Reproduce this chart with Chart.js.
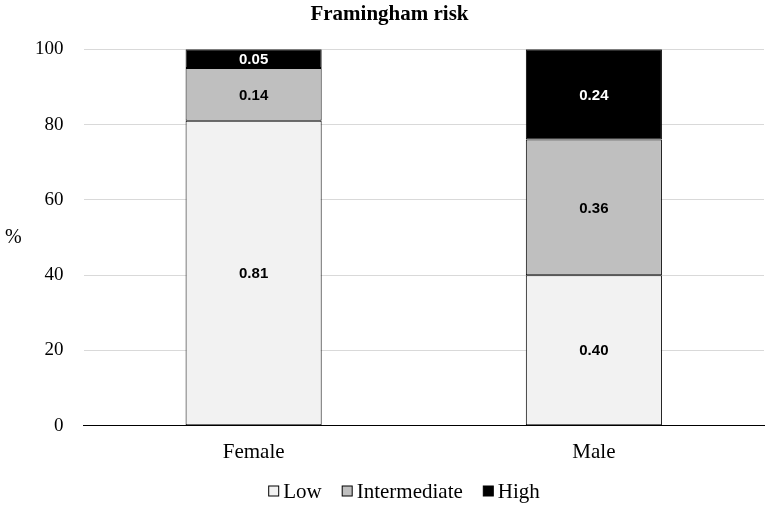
<!DOCTYPE html>
<html>
<head>
<meta charset="utf-8">
<script src="https://cdn.jsdelivr.net/npm/chart.js@4.4.0/dist/chart.umd.min.js"></script>
<style>
html,body{margin:0;padding:0;background:#fff;}
#wrap{width:770px;height:505px;position:relative;}
</style>
</head>
<body>
<div id="wrap"><canvas id="c" width="770" height="505"></canvas></div>
<script>
const categories = ["Female", "Male"];
const lowValues = [81, 40];
const intermediateValues = [14, 36];
const highValues = [5, 24];
const yTicks = [0, 20, 40, 60, 80, 100];

const serif = "'Liberation Serif', 'Times New Roman', serif";
const sans = "'Liberation Sans', Arial, sans-serif";

const labelPlugin = {
  id: 'barLabels',
  afterDatasetsDraw(chart) {
    const ctx = chart.ctx;
    ctx.save();
    ctx.font = "bold 15px " + sans;
    ctx.textAlign = 'center';
    ctx.textBaseline = 'middle';
    chart.data.datasets.forEach((ds, di) => {
      const meta = chart.getDatasetMeta(di);
      meta.data.forEach((bar, i) => {
        const v = ds.data[i];
        const yMid = (bar.y + bar.base) / 2;
        ctx.fillStyle = ds.labelColor;
        ctx.fillText((v / 100).toFixed(2), bar.x, yMid + 1);
      });
    });
    // y axis title "%"
    ctx.font = "20px " + serif;
    ctx.fillStyle = '#000';
    ctx.textAlign = 'left';
    const ya = chart.scales.y;
    ctx.fillText('%', 5, (ya.top + ya.bottom) / 2);

    // custom legend
    ctx.font = "21px " + serif;
    const box = 11, gapText = 4, gapItem = 20;
    const items = chart.data.datasets.map(ds => ({ ds, w: ctx.measureText(ds.label).width }));
    let total = 0;
    items.forEach((it, k) => { total += box + gapText + it.w + (k < items.length - 1 ? gapItem : 0); });
    let x = chart.width / 2 + 19 - total / 2;
    const yc = 491;
    items.forEach(it => {
      ctx.fillStyle = it.ds.backgroundColor;
      ctx.fillRect(x + 0.5, yc - box / 2 + 0.5, box - 1, box - 1);
      ctx.strokeStyle = '#000';
      ctx.lineWidth = 1;
      ctx.strokeRect(x + 0.5, yc - box / 2 + 0.5, box - 1, box - 1);
      ctx.fillStyle = '#000';
      ctx.textAlign = 'left';
      ctx.textBaseline = 'middle';
      ctx.fillText(it.ds.label, x + box + gapText, yc + 1);
      x += box + gapText + it.w + gapItem;
    });
    ctx.restore();
  }
};

new Chart(document.getElementById('c'), {
  type: 'bar',
  data: {
    labels: categories,
    datasets: [
      { label: 'Low', data: lowValues, backgroundColor: '#f2f2f2', borderColor: '#000', borderWidth: 1, borderSkipped: false, labelColor: '#000' },
      { label: 'Intermediate', data: intermediateValues, backgroundColor: '#bfbfbf', borderColor: '#000', borderWidth: 1, borderSkipped: false, labelColor: '#000' },
      { label: 'High', data: highValues, backgroundColor: '#000000', borderColor: '#000', borderWidth: 1, borderSkipped: false, labelColor: '#fff' }
    ]
  },
  options: {
    responsive: false,
    animation: false,
    layout: { padding: { left: 15, right: 6, top: 0, bottom: 26 } },
    datasets: { bar: { categoryPercentage: 1, barPercentage: 0.4 } },
    plugins: {
      title: {
        display: true, text: 'Framingham risk', color: '#000',
        font: { family: serif, size: 21, weight: 'bold' },
        padding: { top: 2, bottom: 22 }
      },
      legend: { display: false },
      tooltip: { enabled: false }
    },
    scales: {
      x: {
        stacked: true,
        grid: { display: false, drawTicks: false },
        border: { display: true, color: '#000', width: 1 },
        ticks: { color: '#000', font: { family: serif, size: 21 }, padding: 14 }
      },
      y: {
        stacked: true, min: 0, max: 100,
        afterBuildTicks(axis) { axis.ticks = yTicks.map(v => ({ value: v })); },
        grid: { color: '#d9d9d9', drawTicks: false },
        border: { display: false },
        ticks: { color: '#000', font: { family: serif, size: 19 }, padding: 20 }
      }
    }
  },
  plugins: [labelPlugin]
});
</script>
</body>
</html>
